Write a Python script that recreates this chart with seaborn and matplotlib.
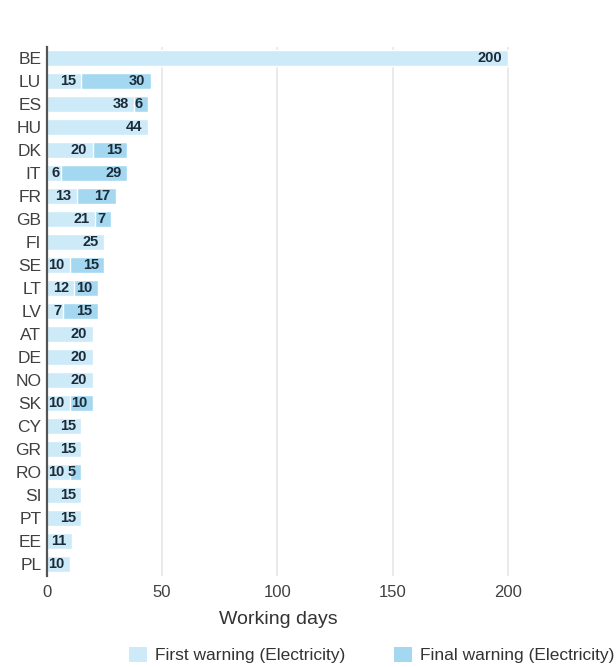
import matplotlib
matplotlib.use("Agg")
import matplotlib.pyplot as plt
from matplotlib.patches import Patch
import seaborn as sns
import pandas as pd

countries = ["BE", "LU", "ES", "HU", "DK", "IT", "FR", "GB", "FI", "SE", "LT", "LV",
             "AT", "DE", "NO", "SK", "CY", "GR", "RO", "SI", "PT", "EE", "PL"]
first_warning = [200, 15, 38, 44, 20, 6, 13, 21, 25, 10, 12, 7,
                 20, 20, 20, 10, 15, 15, 10, 15, 15, 11, 10]
final_warning = [0, 30, 6, 0, 15, 29, 17, 7, 0, 15, 10, 15,
                 0, 0, 0, 10, 0, 0, 5, 0, 0, 0, 0]
x_ticks = [0, 50, 100, 150, 200]

LIGHT = "#cdeaf8"
DARK = "#a3d8f0"
LABEL = "#1c2b3a"

df = pd.DataFrame({"country": countries, "first": first_warning, "final": final_warning})
df["total"] = df["first"] + df["final"]

sns.set_theme(style="white")
plt.rcParams["font.family"] = ["Liberation Sans", "DejaVu Sans"]

fig = plt.figure(figsize=(6.16, 6.67), dpi=100)
ax = fig.add_axes([0.076, 0.137, 0.752, 0.793])

# stacked bars: full length in the darker shade, first-warning part drawn over it
sns.barplot(data=df, x="total", y="country", color=DARK, width=0.68,
            saturation=1, ax=ax, zorder=2)
sns.barplot(data=df, x="first", y="country", color=LIGHT, width=0.68,
            saturation=1, ax=ax, zorder=3)

total_bars = ax.containers[0]
first_bars = ax.containers[1]
final_labels = ax.bar_label(total_bars, labels=[str(v) if v else "" for v in df["final"]],
                            label_type="edge", fontsize=10.5, fontweight="bold",
                            color=LABEL, zorder=5)
first_labels = ax.bar_label(first_bars, labels=[str(v) for v in df["first"]],
                            label_type="edge", fontsize=10.5, fontweight="bold",
                            color=LABEL, zorder=5)
# right-align each label just inside the end of its segment
for t in final_labels:
    t.set_horizontalalignment("right")
    t.xyann = (-4, 0)
for t, v in zip(first_labels, df["first"]):
    t.set_horizontalalignment("right")
    t.xyann = (-1 if v < 10 else -4, 0)

ax.set_xlim(0, 201)
ax.set_xticks(x_ticks)
ax.set_xticklabels([str(v) for v in x_ticks])
ax.tick_params(axis="both", length=0, labelsize=12, labelcolor="#404040", pad=4)
ax.tick_params(axis="y", labelsize=12.5)
ax.tick_params(axis="x", pad=7)
ax.set_xlabel("Working days", fontsize=14, color="#333333", labelpad=8)
ax.set_ylabel("")

ax.xaxis.grid(True, color="#e6e6e6", linewidth=1.2, zorder=0)
ax.set_axisbelow(True)
for side in ["top", "right", "bottom"]:
    ax.spines[side].set_visible(False)
ax.spines["left"].set_color("#555555")
ax.spines["left"].set_linewidth(1.6)
ax.spines["left"].set_zorder(6)

handles = [Patch(facecolor=LIGHT, edgecolor="none", label="First warning (Electricity)"),
           Patch(facecolor=DARK, edgecolor="none", label="Final warning (Electricity)")]
fig.legend(handles=handles, loc="center", bbox_to_anchor=(0.604, 0.018), ncol=2,
           frameon=False, fontsize=12.5, handlelength=1.0, handleheight=1.0,
           handletextpad=0.5, columnspacing=2.8, labelcolor="#333333")

fig.savefig("out.png", dpi=100)
